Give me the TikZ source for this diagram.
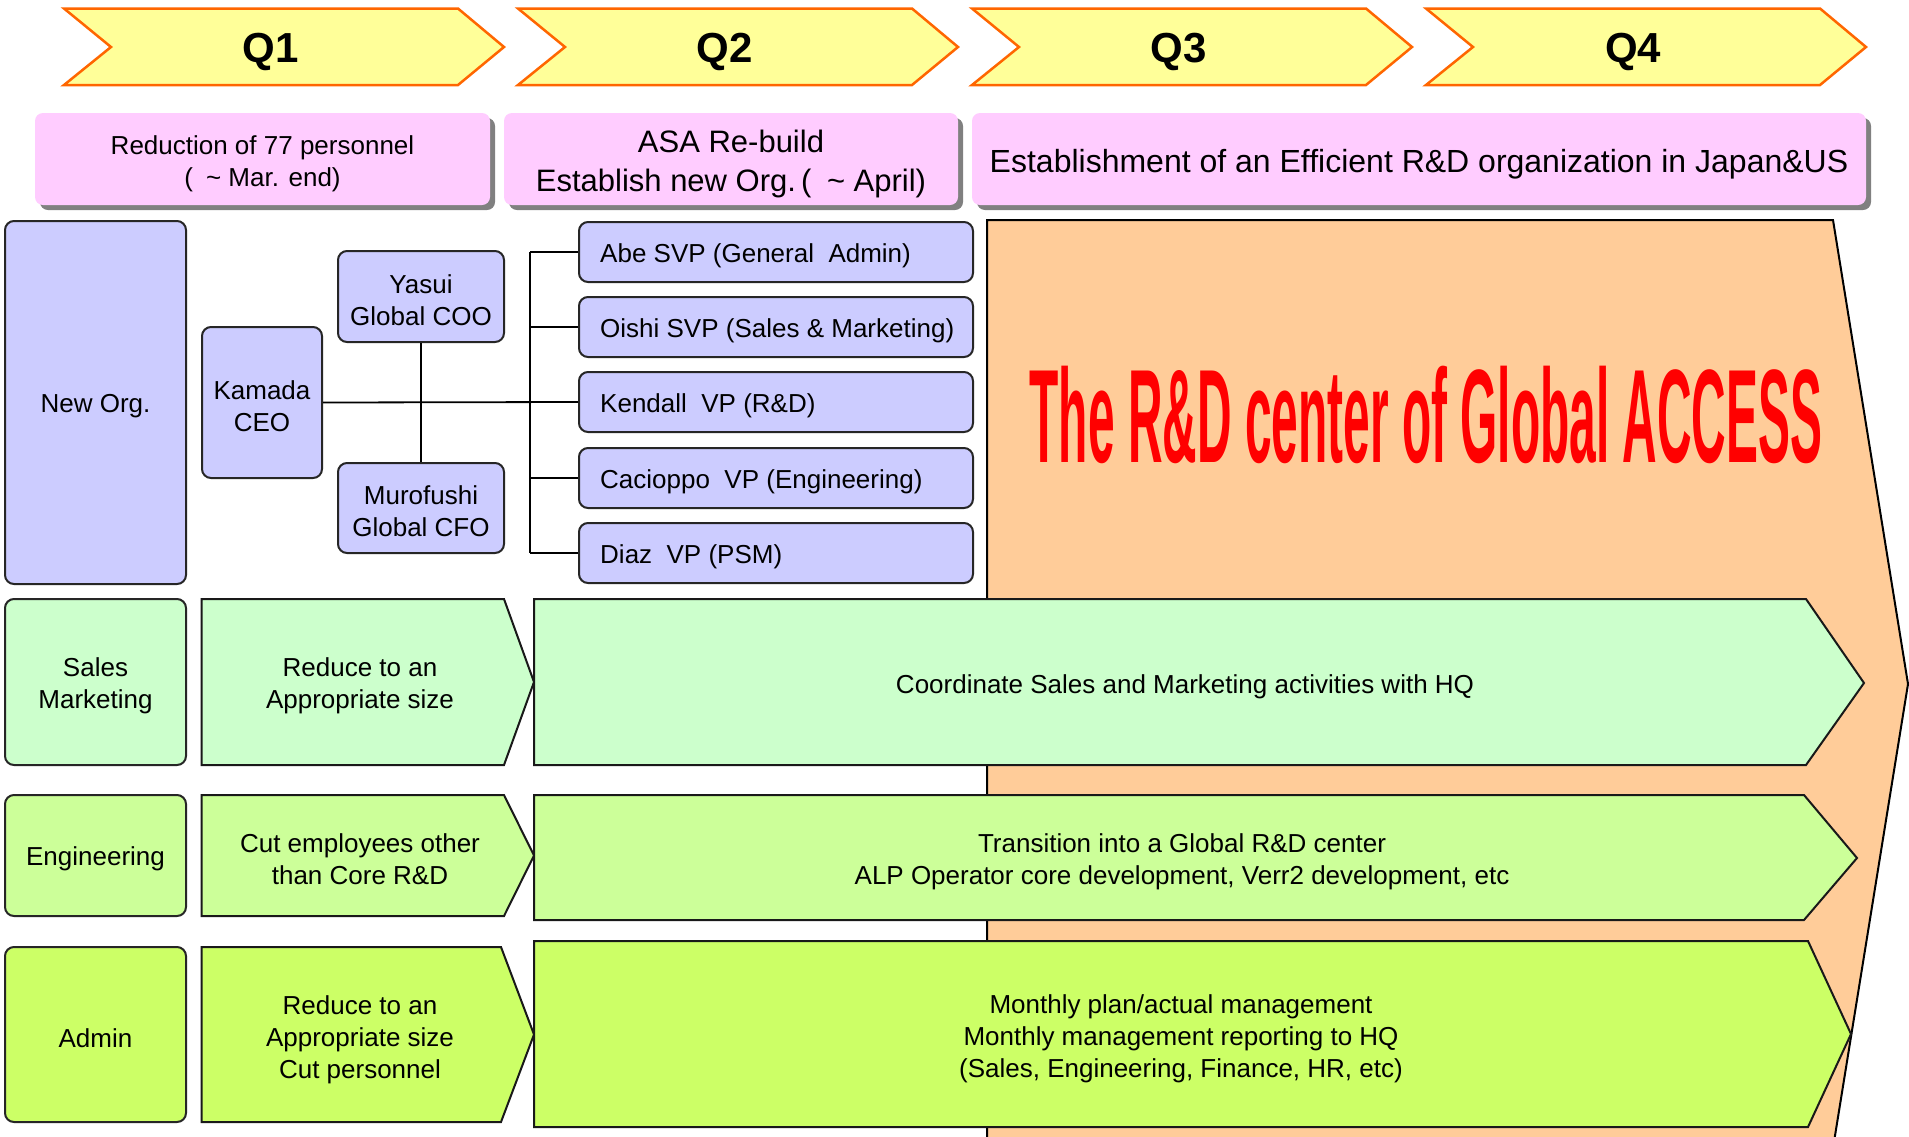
\documentclass[tikz,border=0pt]{standalone}
\usepackage{fontspec}
\setmainfont{Liberation Sans}
\usetikzlibrary{shadows}
\definecolor{qyellow}{HTML}{FFFF99}
\definecolor{qorange}{HTML}{FF6600}
\definecolor{cpink}{HTML}{FFCCFF}
\definecolor{clav}{HTML}{CCCCFF}
\definecolor{corange}{HTML}{FFCC99}
\definecolor{gsales}{HTML}{CCFFCC}
\definecolor{geng}{HTML}{CCFF99}
\definecolor{gadmin}{HTML}{CCFF66}
\definecolor{cred}{HTML}{FF0000}
\begin{document}
\begin{tikzpicture}[x=1pt,y=-1pt,
  qchev/.style={fill=qyellow, draw=qorange, line width=2.5pt, line join=miter},
  qlabel/.style={font=\fontsize{42}{42}\selectfont\bfseries, inner sep=0pt, yshift=-4pt},
  pinkbox/.style={rectangle, rounded corners=8pt, fill=cpink, inner sep=0pt,
     drop shadow={shadow xshift=5pt,shadow yshift=-5pt,fill=black!50,opacity=1}},
  pinktext/.style={align=center, inner sep=0pt, yshift=-5pt},
  orgbox/.style={rectangle, rounded corners=9pt, fill=clav, draw=black!85, line width=2pt, inner sep=0pt},
  vpbox/.style={orgbox, minimum width=394pt, minimum height=60pt},
  rowbox/.style={rectangle, rounded corners=9pt, draw=black!85, line width=2pt, inner sep=0pt, minimum width=181pt},
  rowshape/.style={draw=black!90, line width=2pt, line join=miter},
  bodytext/.style={align=center, font=\fontsize{26}{32}\selectfont, inner sep=0pt, yshift=-3.5pt},
  vptext/.style={anchor=west, font=\fontsize{26}{32}\selectfont, inner sep=0pt, yshift=-3.5pt, xshift=22pt},
  link/.style={draw=black, line width=1.8pt}
]
\useasboundingbox (0,0) rectangle (1909,1136);
\fill[white] (0,0) rectangle (1909,1136);

% quarter chevrons
\foreach \i/\q in {0/Q1,1/Q2,2/Q3,3/Q4}{
  \pgfmathsetmacro{\L}{64+454*\i}
  \draw[qchev] (\L,8.5) -- (\L+394,8.5) -- (\L+440,47) -- (\L+394,85) -- (\L,85) -- (\L+47,47) -- cycle;
  \node[qlabel] (lab\q) at (\L+207,48) {\q};
}

% pink goal boxes
\node[pinkbox, minimum width=455pt, minimum height=92pt] (goal1) at (262.5,159) {};
\node[pinktext, font=\fontsize{26}{32}\selectfont] (goal1t) at (goal1.center)
  {Reduction of 77 personnel\\(\,\,\,\textasciitilde\ Mar. end)};
\node[pinkbox, minimum width=454pt, minimum height=92pt] (goal2) at (731,159) {};
\node[pinktext, font=\fontsize{31}{39}\selectfont] (goal2t) at (goal2.center)
  {ASA Re-build\\Establish new Org.\,(\,\,\,\textasciitilde\ April)};
\node[pinkbox, minimum width=894pt, minimum height=92pt] (goal3) at (1419,159) {};
\node[pinktext, font=\fontsize{32}{39}\selectfont] (goal3t) at (goal3.center)
  {Establishment of an Efficient R\&D organization in Japan\&US};

% big orange arrow
\draw[fill=corange, draw=black, line width=2pt, line join=miter]
  (987,220) -- (1833,220) -- (1908,684) -- (1833,1148) -- (987,1148) -- cycle;
\node[anchor=base, text=cred, inner sep=0pt] (rdtitle) at (1426,462)
  {\scalebox{0.36}[1]{\fontsize{133}{133}\selectfont\bfseries The R\&D center of Global ACCESS}};

% org chart
\node[orgbox, minimum width=181pt, minimum height=363pt] (neworg) at (95.5,402.5) {};
\node[bodytext] (neworgt) at (neworg.center) {New Org.};
\node[orgbox, minimum width=120pt, minimum height=151pt] (kamada) at (262,402.5) {};
\node[bodytext] (kamadat) at (kamada.center) {Kamada\\CEO};
\node[orgbox, minimum width=166pt, minimum height=91pt] (yasui) at (421,296.5) {};
\node[bodytext] (yasuit) at (yasui.center) {Yasui\\Global COO};
\node[orgbox, minimum width=166pt, minimum height=90pt] (murofushi) at (421,508) {};
\node[bodytext] (murofushit) at (murofushi.center) {Murofushi\\Global CFO};

\node[vpbox] (abe) at (776,252) {};
\node[vptext] (abet) at (abe.west) {Abe SVP (General\ \ Admin)};
\node[vpbox] (oishi) at (776,327) {};
\node[vptext] (oishit) at (oishi.west) {Oishi SVP (Sales \& Marketing)};
\node[vpbox] (kendall) at (776,402) {};
\node[vptext] (kendallt) at (kendall.west) {Kendall\ \ VP (R\&D)};
\node[vpbox] (cacioppo) at (776,478) {};
\node[vptext] (cacioppot) at (cacioppo.west) {Cacioppo\ \ VP (Engineering)};
\node[vpbox] (diaz) at (776,553) {};
\node[vptext] (diazt) at (diaz.west) {Diaz\ \ VP (PSM)};

\draw[link] (yasui.south) -- (murofushi.north);
\draw[link] (kamada.east) -- (kendall.west);
\path (abe.west) ++(-48,0) coordinate (busT);
\path (diaz.west) ++(-48,0) coordinate (busB);
\draw[link] (busT) -- (busB);
\foreach \n in {abe,oishi,kendall,cacioppo,diaz}{
  \draw[link] (\n.west) -- ++(-48,0);
}

% Sales row
\node[rowbox, fill=gsales, minimum height=166pt] (sales) at (95.5,682) {};
\node[bodytext] (salest) at (sales.center) {Sales\\Marketing};
\draw[rowshape, fill=gsales] (201.5,599) -- (504,599) -- (534,682) -- (504,765) -- (201.5,765) -- cycle;
\node[bodytext] (salesq1) at (360,682) {Reduce to an\\Appropriate size};
\draw[rowshape, fill=gsales] (534,599) -- (1806,599) -- (1864,683) -- (1806,765) -- (534,765) -- cycle;
\node[bodytext] (salesrest) at (1185,683) {Coordinate Sales and Marketing activities with HQ};

% Engineering row
\node[rowbox, fill=geng, minimum height=121pt] (eng) at (95.5,855.5) {};
\node[bodytext] (engt) at (eng.center) {Engineering};
\draw[rowshape, fill=geng] (201.5,795) -- (504,795) -- (534,855.5) -- (504,916) -- (201.5,916) -- cycle;
\node[bodytext] (engq1) at (360,856) {Cut employees other\\than Core R\&D};
\draw[rowshape, fill=geng] (534,795) -- (1804,795) -- (1857,858) -- (1804,920) -- (534,920) -- cycle;
\node[bodytext] (engrest) at (1182,858) {Transition into a Global R\&D center\\ALP Operator core development, Verr2 development, etc};

% Admin row
\node[rowbox, fill=gadmin, minimum height=175pt] (admin) at (95.5,1034.5) {};
\node[bodytext] (admint) at (admin.center) {Admin};
\draw[rowshape, fill=gadmin] (201.5,947) -- (501,947) -- (534,1034.5) -- (501,1122) -- (201.5,1122) -- cycle;
\node[bodytext] (adminq1) at (360,1036) {Reduce to an\\Appropriate size\\Cut personnel};
\draw[rowshape, fill=gadmin] (534,941) -- (1808,941) -- (1851,1034) -- (1808,1127) -- (534,1127) -- cycle;
\node[bodytext] (adminrest) at (1181,1035) {Monthly plan/actual management\\Monthly management reporting to HQ\\(Sales, Engineering, Finance, HR, etc)};
\end{tikzpicture}
\end{document}
